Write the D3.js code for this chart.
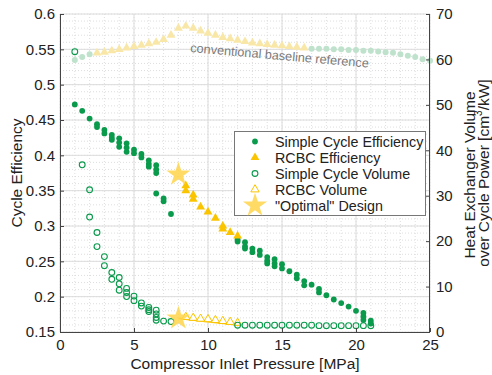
<!DOCTYPE html>
<html>
<head>
<meta charset="utf-8">
<script src="https://cdn.jsdelivr.net/npm/d3@7"></script>
<style>
  body { margin: 0; background: #fff; }
  svg { display: block; font-family: "Liberation Sans", Arial, sans-serif; }
</style>
</head>
<body>
<div id="chart"></div>
<script>
// simple cycle efficiency (left axis), several runs per pressure
const simpleEffP = [1, 1.5, 2, 2.5, 2.5, 3, 3, 3.5, 3.5, 3.5, 4, 4, 4, 4.5, 4.5, 4.5, 5, 5, 5.5, 5.5,
  6, 6, 6, 6.5, 6.5, 6.5, 6.5, 7, 7, 7.5,
  12, 12, 12.5, 12.5, 12.5, 13, 13, 13.5, 13.5, 14, 14, 14, 14.5, 14.5, 14.5, 15, 15, 15.5, 16, 16,
  16.5, 16.5, 17, 17.5, 17.5, 18, 18.5, 19, 19.5, 20, 20.5, 20.5, 20.5, 21, 21];
const simpleEff = [0.472, 0.463, 0.452, 0.444, 0.440, 0.436, 0.431, 0.429, 0.425, 0.422, 0.424, 0.418, 0.412,
  0.417, 0.411, 0.405, 0.408, 0.403, 0.402, 0.397, 0.393, 0.388, 0.384, 0.386, 0.380, 0.375, 0.346,
  0.339, 0.335, 0.317,
  0.281, 0.278, 0.277, 0.271, 0.268, 0.268, 0.263, 0.265, 0.259, 0.256, 0.251, 0.247, 0.253, 0.247, 0.243,
  0.246, 0.240, 0.236, 0.231, 0.226, 0.222, 0.216, 0.217, 0.211, 0.206, 0.202, 0.196, 0.191, 0.186, 0.180,
  0.177, 0.172, 0.167, 0.166, 0.162];

// RCBC efficiency (left axis)
const rcbcEffP = [8.5, 8.5, 9, 9, 9.5, 10, 10.5, 11, 11, 11.5, 12];
const rcbcEff = [0.357, 0.350, 0.344, 0.338, 0.327, 0.320, 0.311, 0.300, 0.296, 0.291, 0.286];

// simple cycle volume (right axis, cm3/kW)
const simpleVolP = [1, 1.5, 2, 2, 2.5, 2.5, 3, 3, 3.5, 3.5, 4, 4, 4, 4.5, 4.5, 4.5, 5, 5, 5.5, 5.5,
  6, 6, 6, 6.5, 6.5, 6.5, 6.5, 7, 7.5,
  12, 12.5, 13, 13.5, 14, 14.5, 15, 15.5, 16, 16.5, 17, 17.5, 18, 18.5, 19, 19.5, 20, 20.5, 21];
const simpleVol = [61.7, 36.8, 31.3, 25.3, 21.9, 18.8, 16.6, 14.6, 13.1, 11.6, 12.0, 10.6, 9.2, 9.6, 8.7, 7.8,
  7.9, 6.9, 6.4, 5.7, 5.4, 4.9, 4.5, 4.8, 4.0, 3.2, 2.6, 2.4, 2.3,
  1.5, 1.5, 1.5, 1.5, 1.5, 1.5, 1.5, 1.5, 1.5, 1.5, 1.5, 1.4, 1.4, 1.4, 1.4, 1.4, 1.4, 1.4, 1.4];

// RCBC volume (right axis)
const rcbcVolP = [8.5, 9, 9.5, 10, 10.5, 11, 11.5, 12];
const rcbcVol = [3.3, 3.1, 2.9, 2.8, 2.6, 2.4, 2.2, 2.0];
const rcbcVolLineP = [8, 12];
const rcbcVolLine = [3.0, 1.6];

// "optimal" design
const optP = 8;
const optEff = 0.373;
const optVol = 3.0;

// conventional baseline reference (faded, left axis)
const baseP = [1, 1.5, 2, 2.5, 3, 3.5, 4, 4.5, 5, 5.5, 6, 6.5, 7, 7.5, 8, 8.5, 9, 9.5, 10, 10.5, 11, 11.5,
  12, 12.5, 13, 13.5, 14, 14.5, 15, 15.5, 16, 16.5,
  17, 17.5, 18, 18.5, 19, 19.5, 20, 20.5, 21, 21.5, 22, 22.5, 23, 23.5, 24, 24.5, 25];
const baseEff = [0.535, 0.539, 0.543, 0.545, 0.546, 0.548, 0.550, 0.552, 0.554, 0.556, 0.558, 0.560, 0.564,
  0.570, 0.580, 0.583, 0.580, 0.576, 0.573, 0.570, 0.567, 0.565, 0.563, 0.561, 0.559, 0.558, 0.557, 0.556,
  0.555, 0.554, 0.553, 0.552,
  0.551, 0.551, 0.551, 0.550, 0.550, 0.549, 0.549, 0.548, 0.548, 0.547, 0.546, 0.545, 0.543, 0.541, 0.539,
  0.536, 0.534];
const baseKind = baseP.map(p => (p >= 2.5 && p <= 16.5) ? "tri" : "dot");

const xTicks = [0, 5, 10, 15, 20, 25];
const yLeftTicks = [0.15, 0.2, 0.25, 0.3, 0.35, 0.4, 0.45, 0.5, 0.55, 0.6];
const yRightTicks = [0, 10, 20, 30, 40, 50, 60, 70];
const legendLabels = ["Simple Cycle Efficiency", "RCBC Efficiency", "Simple Cycle Volume", "RCBC Volume", "\"Optimal\" Design"];

const width = 492, height = 375;
const green = "#0a9a4c", gold = "#fbc400", starCol = "#ffd54a";

const x = d3.scaleLinear().domain([0, 25]).range([60, 430]);
const yL = d3.scaleLinear().domain([0.15, 0.6]).range([332, 14]);
const yR = d3.scaleLinear().domain([0, 70]).range([332, 14]);

const svg = d3.select("#chart").append("svg")
  .attr("width", width).attr("height", height);

// grid
const grid = svg.append("g");
grid.selectAll(".vminor").data(x.ticks(25)).join("line")
  .attr("x1", d => x(d)).attr("x2", d => x(d)).attr("y1", 14).attr("y2", 332)
  .attr("stroke", "#d6d6d6").attr("stroke-dasharray", "1,2").attr("stroke-width", 0.8);
grid.selectAll(".hminor").data(yL.ticks(45)).join("line")
  .attr("x1", 60).attr("x2", 430).attr("y1", d => yL(d)).attr("y2", d => yL(d))
  .attr("stroke", "#d6d6d6").attr("stroke-dasharray", "1,2").attr("stroke-width", 0.8);
grid.selectAll(".vmajor").data(xTicks).join("line")
  .attr("x1", d => x(d)).attr("x2", d => x(d)).attr("y1", 14).attr("y2", 332)
  .attr("stroke", "#dcdcdc").attr("stroke-width", 1);
grid.selectAll(".hmajor").data(yLeftTicks).join("line")
  .attr("x1", 60).attr("x2", 430).attr("y1", d => yL(d)).attr("y2", d => yL(d))
  .attr("stroke", "#dcdcdc").attr("stroke-width", 1);

const tri = d3.symbol().type(d3.symbolTriangle).size(34);
const triSmall = d3.symbol().type(d3.symbolTriangle).size(30);
const star = d3.symbol().type(d3.symbolStar).size(180);

// baseline reference
const base = baseP.map((p, i) => ({ p, e: baseEff[i], k: baseKind[i] }));
svg.append("g").selectAll("path").data(base.filter(d => d.k === "tri")).join("path")
  .attr("d", tri).attr("transform", d => `translate(${x(d.p)},${yL(d.e)})`)
  .attr("fill", "#f9e7a8");
svg.append("g").selectAll("circle").data(base.filter(d => d.k === "dot")).join("circle")
  .attr("cx", d => x(d.p)).attr("cy", d => yL(d.e)).attr("r", 3)
  .attr("fill", "#bfe2cc");

svg.append("text")
  .attr("transform", `translate(190,52) rotate(5)`)
  .attr("font-size", 12.7).attr("fill", "#7a7a7a")
  .text("conventional baseline reference");

// RCBC volume line + triangles
svg.append("path")
  .datum(rcbcVolLineP.map((p, i) => [p, rcbcVolLine[i]]))
  .attr("d", d3.line().x(d => x(d[0])).y(d => yR(d[1])))
  .attr("stroke", gold).attr("stroke-width", 2).attr("fill", "none");
svg.append("g").selectAll("path").data(rcbcVolP.map((p, i) => [p, rcbcVol[i]])).join("path")
  .attr("d", triSmall).attr("transform", d => `translate(${x(d[0])},${yR(d[1])})`)
  .attr("fill", "#fff").attr("stroke", gold).attr("stroke-width", 1);

// simple cycle volume
svg.append("g").selectAll("circle").data(simpleVolP.map((p, i) => [p, simpleVol[i]])).join("circle")
  .attr("cx", d => x(d[0])).attr("cy", d => yR(d[1])).attr("r", 2.9)
  .attr("fill", "none").attr("stroke", green).attr("stroke-width", 1.1);

// simple cycle efficiency
svg.append("g").selectAll("circle").data(simpleEffP.map((p, i) => [p, simpleEff[i]])).join("circle")
  .attr("cx", d => x(d[0])).attr("cy", d => yL(d[1])).attr("r", 2.9)
  .attr("fill", green);

// RCBC efficiency
svg.append("g").selectAll("path").data(rcbcEffP.map((p, i) => [p, rcbcEff[i]])).join("path")
  .attr("d", tri).attr("transform", d => `translate(${x(d[0])},${yL(d[1])})`)
  .attr("fill", gold);

// optimal design stars
svg.append("path").attr("d", star)
  .attr("transform", `translate(${x(optP)},${yL(optEff)})`)
  .attr("fill", starCol).attr("opacity", 0.85);
svg.append("path").attr("d", star)
  .attr("transform", `translate(${x(optP)},${yR(optVol)})`)
  .attr("fill", starCol).attr("opacity", 0.85);

// axes
const axL = svg.append("g").attr("transform", "translate(60,0)")
  .call(d3.axisLeft(yL).tickValues(yLeftTicks).tickSize(-4).tickPadding(5).tickFormat(d3.format("")));
const axR = svg.append("g").attr("transform", "translate(430,0)")
  .call(d3.axisRight(yR).tickValues(yRightTicks).tickSize(-4).tickPadding(6));
const axB = svg.append("g").attr("transform", "translate(0,332)")
  .call(d3.axisBottom(x).tickValues(xTicks).tickSize(-4).tickPadding(7));
[axL, axR, axB].forEach(a => {
  a.select(".domain").attr("stroke", "#444").attr("stroke-width", 1);
  a.selectAll(".tick line").attr("stroke", "#444");
  a.selectAll(".tick text").attr("font-size", 15).attr("fill", "#222")
    .attr("font-family", "Liberation Sans, Arial, sans-serif");
});
axL.select(".domain").attr("d", "M0.5,14V332.5");
axR.select(".domain").attr("d", "M-0.5,14V332.5");
axB.select(".domain").attr("d", "M60,0.5H430");

// axis titles
svg.append("text").attr("x", 245).attr("y", 369).attr("text-anchor", "middle")
  .attr("font-size", 15.5).attr("fill", "#222").text("Compressor Inlet Pressure [MPa]");
svg.append("text").attr("transform", "translate(22,173) rotate(-90)").attr("text-anchor", "middle")
  .attr("font-size", 15.5).attr("fill", "#222").text("Cycle Efficiency");
svg.append("text").attr("transform", "translate(475,175) rotate(-90)").attr("text-anchor", "middle")
  .attr("font-size", 15.5).attr("fill", "#222").text("Heat Exchanger Volume");
const t2 = svg.append("text").attr("transform", "translate(489,173) rotate(-90)").attr("text-anchor", "middle")
  .attr("font-size", 15.5).attr("fill", "#222");
t2.append("tspan").text("over Cycle Power [cm");
t2.append("tspan").attr("font-size", 10).attr("dy", -7).text("3");
t2.append("tspan").attr("dy", 7).text("/kW]");

// legend
const lg = svg.append("g");
lg.append("rect").attr("x", 234.5).attr("y", 131.5).attr("width", 191).attr("height", 84)
  .attr("fill", "#fff").attr("stroke", "#777").attr("stroke-width", 1);
const rows = legendLabels.map((label, i) => ({ label, y: 141.5 + i * 16 }));
lg.selectAll("text").data(rows).join("text")
  .attr("x", 275).attr("y", d => d.y + 5.3).attr("font-size", 14.3).attr("fill", "#222")
  .text(d => d.label);
lg.append("circle").attr("cx", 255).attr("cy", rows[0].y).attr("r", 2.9).attr("fill", green);
lg.append("path").attr("d", tri).attr("transform", `translate(255,${rows[1].y})`).attr("fill", gold);
lg.append("circle").attr("cx", 255).attr("cy", rows[2].y).attr("r", 2.9)
  .attr("fill", "none").attr("stroke", green).attr("stroke-width", 1.1);
lg.append("path").attr("d", triSmall).attr("transform", `translate(255,${rows[3].y})`)
  .attr("fill", "#fff").attr("stroke", gold).attr("stroke-width", 1);
lg.append("path").attr("d", star).attr("transform", `translate(255,${rows[4].y})`)
  .attr("fill", starCol).attr("opacity", 0.85);
</script>
</body>
</html>
